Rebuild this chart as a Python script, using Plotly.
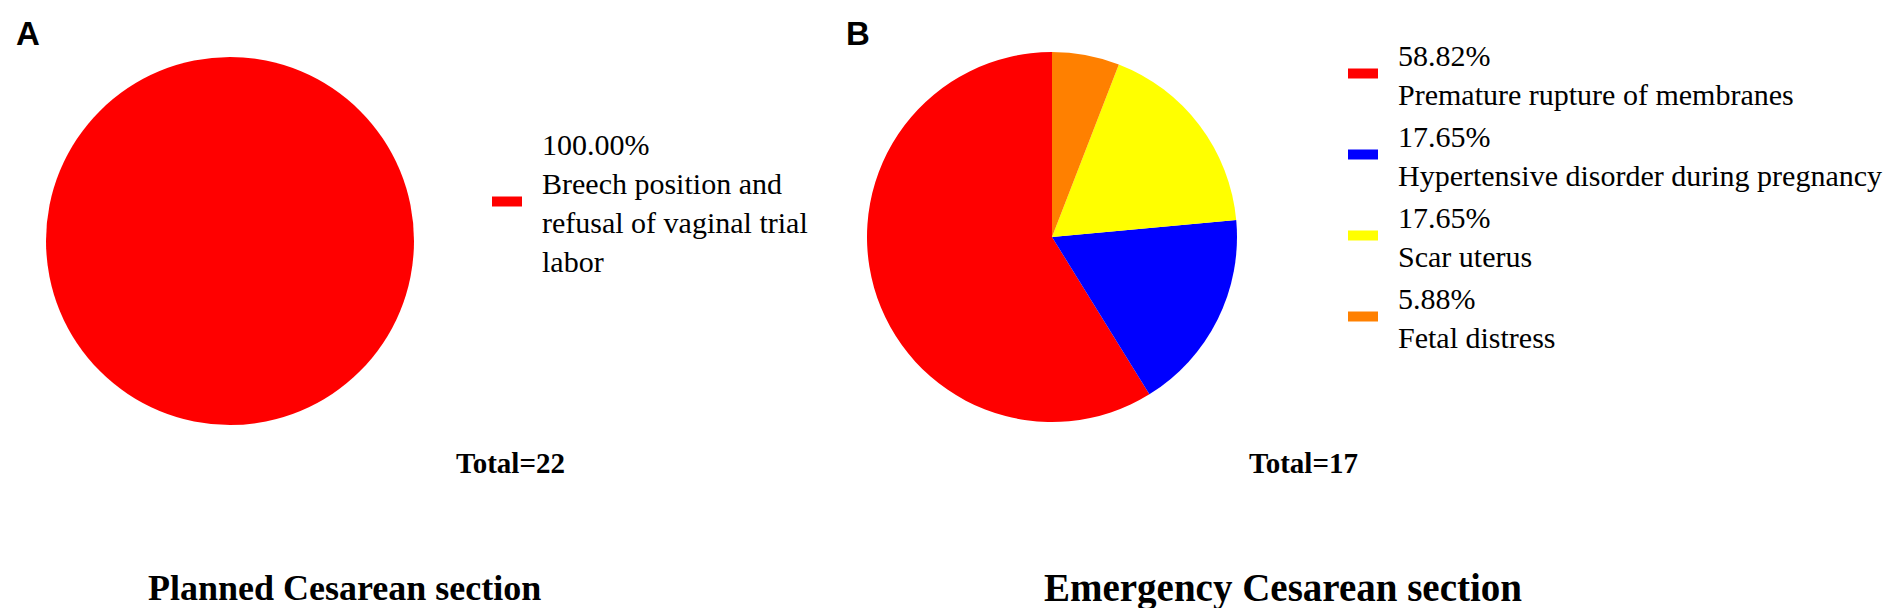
import plotly.graph_objects as go

# ---- data ----
planned_labels = ["Breech position and<br>refusal of vaginal trial<br>labor"]
planned_counts = [22]
planned_colors = ["#FF0000"]

emergency_labels = [
    "Premature rupture of membranes",
    "Hypertensive disorder during pregnancy",
    "Scar uterus",
    "Fetal distress",
]
emergency_counts = [10, 3, 3, 1]
emergency_colors = ["#FF0000", "#0000FF", "#FFFF00", "#FF8000"]

panel_letters = ["A", "B"]
panel_titles = ["Planned Cesarean section", "Emergency Cesarean section"]

SERIF = "Liberation Serif, Times New Roman, serif"
SANS = "Liberation Sans, Arial, sans-serif"
W, H = 1904, 608
PAD = "\u00a0\u00a0"


def legend_text(count, total, label):
    lines = [f"{100 * count / total:.2f}%"] + label.split("<br>")
    return "<br>".join(PAD + ln for ln in lines)


def px_x(v):
    return v / W


def px_y(v):
    return 1 - v / H


fig = go.Figure()

tot_a = sum(planned_counts)
tot_b = sum(emergency_counts)

# Pie A
fig.add_trace(go.Pie(
    values=planned_counts, labels=planned_labels,
    marker=dict(colors=planned_colors, line=dict(width=0)),
    sort=False, direction="counterclockwise", textinfo="none",
    showlegend=False, hoverinfo="label+percent",
    domain=dict(x=[px_x(38), px_x(406)], y=[px_y(417), px_y(49)]),
))

# Pie B: first slice begins at 12 o'clock and runs counter-clockwise
fig.add_trace(go.Pie(
    values=emergency_counts, labels=emergency_labels,
    marker=dict(colors=emergency_colors, line=dict(width=0)),
    sort=False, direction="counterclockwise",
    rotation=360 * (1 - emergency_counts[0] / tot_b),
    textinfo="none", showlegend=False, hoverinfo="label+percent",
    domain=dict(x=[px_x(859), px_x(1229)], y=[px_y(414), px_y(44)]),
))

# legend entries
for lab, cnt, col in zip(planned_labels, planned_counts, planned_colors):
    fig.add_trace(go.Scatter(
        x=[None], y=[None], mode="lines", line=dict(color=col, width=11),
        name=legend_text(cnt, tot_a, lab), legend="legend", hoverinfo="skip",
    ))

for lab, cnt, col in zip(emergency_labels, emergency_counts, emergency_colors):
    fig.add_trace(go.Scatter(
        x=[None], y=[None], mode="lines", line=dict(color=col, width=11),
        name=legend_text(cnt, tot_b, lab), legend="legend2", hoverinfo="skip",
    ))

annotations = []
# panel letters
for letter, xpx in zip(panel_letters, [6, 836]):
    annotations.append(dict(
        text=f"<b>{letter}</b>", x=px_x(xpx), y=px_y(25), xref="paper", yref="paper",
        xanchor="left", yanchor="middle", showarrow=False,
        font=dict(family=SANS, size=33, color="black"),
    ))
# totals
for tot, xpx in zip([tot_a, tot_b], [502, 1295]):
    annotations.append(dict(
        text=f"<b>Total={tot}</b>", x=px_x(xpx), y=px_y(455), xref="paper", yref="paper",
        xanchor="center", yanchor="middle", showarrow=False,
        font=dict(family=SERIF, size=29, color="black"),
    ))
# titles
for title, xpx, fs in zip(panel_titles, [336, 1275], [36, 39]):
    annotations.append(dict(
        text=f"<b>{title}</b>", x=px_x(xpx), y=px_y(580), xref="paper", yref="paper",
        xanchor="center", yanchor="middle", showarrow=False,
        font=dict(family=SERIF, size=fs, color="black"),
    ))

legend_common = dict(
    xanchor="left", yanchor="top", bgcolor="rgba(0,0,0,0)", borderwidth=0,
    font=dict(family=SERIF, size=30, color="black"),
)

fig.update_layout(
    width=W, height=H,
    margin=dict(l=0, r=0, t=0, b=0),
    paper_bgcolor="white", plot_bgcolor="white",
    xaxis=dict(visible=False), yaxis=dict(visible=False),
    legend=dict(x=px_x(479), y=px_y(109), **legend_common),
    legend2=dict(x=px_x(1335), y=px_y(20), **legend_common),
    annotations=annotations,
)

fig.write_html("out.html")
